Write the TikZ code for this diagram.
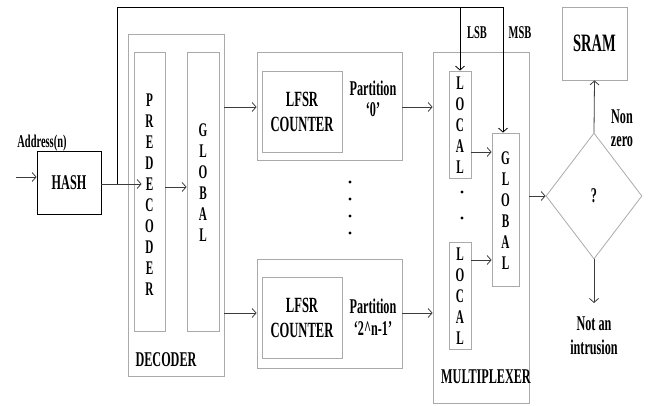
\documentclass[tikz,border=0pt]{standalone}
\usepackage{fontspec}
\setmainfont[FakeStretch=0.58]{Liberation Serif}
\usetikzlibrary{arrows.meta,shapes.geometric}
\definecolor{boxgray}{RGB}{170,170,170}
\definecolor{linedark}{RGB}{60,60,60}
\begin{document}
\begin{tikzpicture}[x=1pt,y=-1pt,
  >={Straight Barb[length=4pt,width=9pt]},
  gbox/.style={draw=boxgray, line width=0.8pt, rectangle, inner sep=0pt},
  bbox/.style={draw=black, line width=0.8pt, rectangle, inner sep=0pt},
  arr/.style={->, draw=linedark, line width=0.8pt},
  route/.style={->, draw=black, line width=0.8pt},
  lbl/.style={font=\fontsize{21}{24}\selectfont\bfseries, inner sep=0pt},
  small/.style={font=\fontsize{18}{21}\selectfont\bfseries, inner sep=0pt},
  stack/.style={font=\fontsize{19.3}{21}\selectfont\bfseries, align=center, inner sep=0pt}]
\useasboundingbox (0,0) rectangle (649,406);
% boxes
\node[bbox, minimum width=64pt, minimum height=63pt, font=\fontsize{21}{24}\selectfont\bfseries] (hash) at (69,182.5) {HASH};
\node[gbox, minimum width=96pt, minimum height=342pt] (dec) at (176,205) {};
\node[gbox, minimum width=31pt, minimum height=279pt] (pre) at (149.5,191.5) {};
\node[gbox, minimum width=32pt, minimum height=279pt] (glob1) at (203,191.5) {};
\node[gbox, minimum width=145pt, minimum height=108pt] (lfsr1) at (329.5,106) {};
\node[gbox, minimum width=80pt, minimum height=81pt, align=center, font=\fontsize{21.7}{25}\selectfont\bfseries] (cnt1) at (302,111.5) {LFSR\\COUNTER};
\node[gbox, minimum width=145pt, minimum height=109pt] (lfsr2) at (329.5,313.5) {};
\node[gbox, minimum width=80pt, minimum height=81pt, align=center, font=\fontsize{21.7}{25}\selectfont\bfseries] (cnt2) at (302,317.5) {LFSR\\COUNTER};
\node[gbox, minimum width=96pt, minimum height=351pt] (mux) at (481,227.5) {};
\node[gbox, minimum width=22pt, minimum height=107pt] (loc1) at (460,124.5) {};
\node[gbox, minimum width=22pt, minimum height=107pt] (loc2) at (460,295.5) {};
\node[gbox, minimum width=27pt, minimum height=153pt] (glob2) at (505.5,209.5) {};
\node[draw=boxgray, line width=0.8pt, diamond, inner sep=0pt, minimum width=96pt, minimum height=126pt, font=\fontsize{21}{24}\selectfont\bfseries] (dia) at (594,196) {?};
\node[gbox, minimum width=65pt, minimum height=73pt, font=\fontsize{25}{28}\selectfont\bfseries] (sram) at (594.5,43.5) {SRAM};
% stacked letters
\node[stack] (pret) at (149.5,195) {P\\R\\E\\D\\E\\C\\O\\D\\E\\R};
\node[stack] (g1t) at (203,182.5) {G\\L\\O\\B\\A\\L};
\node[stack] (l1t) at (460,125) {L\\O\\C\\A\\L};
\node[stack] (l2t) at (460,296.5) {L\\O\\C\\A\\L};
\node[stack] (g2t) at (505.5,210.5) {G\\L\\O\\B\\A\\L};
% labels
\node[small] (addr) at (42,143) {Address(n)};
\node[small] (lsbt) at (477,33) {LSB};
\node[small] (msbt) at (520,33) {MSB};
\node[lbl] (dect) at (166,360) {DECODER};
\node[lbl, align=center, font=\fontsize{21}{20.5}\selectfont\bfseries] (p1) at (373,99) {Partition\\‘0’};
\node[lbl, align=center, font=\fontsize{21}{22}\selectfont\bfseries] (p2) at (373,317) {Partition\\‘2\textasciicircum n-1’};
\node[lbl] (muxt) at (486,377) {MULTIPLEXER};
\node[lbl] (non) at (622,117) {Non};
\node[lbl] (zero) at (622,142) {zero};
\node[lbl] (nota) at (594,324) {Not an};
\node[lbl] (intr) at (594,347) {intrusion};
% dots
\foreach \yy in {182,199,216,233} \fill[black] (350,\yy) circle (1.6pt);
\foreach \yy in {192,218} \fill[black] (462,\yy) circle (1.6pt);
% coordinates
\coordinate (in) at (16,177);
\coordinate (j) at (117,184);
\coordinate (tr) at (503,7);
\coordinate (lsb) at (460,7);
\coordinate (out) at (594,303);
% connectors
\draw[arr] (in) -- (in -| hash.west);
\draw[arr] (hash.east |- j) -- ([xshift=8pt]pre.west |- j);
\draw[route] (j) |- (tr) -- (tr |- glob2.north);
\draw[route] (lsb) -- (lsb |- loc1.north);
\draw[arr] (pre.east |- 0,187) -- (glob1.west |- 0,187);
\draw[arr] (dec.east |- 0,107) -- (lfsr1.west |- 0,107);
\draw[arr] (dec.east |- 0,313) -- (lfsr2.west |- 0,313);
\draw[arr] (lfsr1.east |- 0,107) -- (mux.west |- 0,107);
\draw[arr] (lfsr2.east |- 0,313) -- (mux.west |- 0,313);
\draw[arr] (loc1.east |- 0,152) -- (glob2.west |- 0,152);
\draw[arr] (loc2.east |- 0,260) -- (glob2.west |- 0,260);
\draw[arr] (mux.east |- dia.west) -- (dia.west);
\draw[arr] (dia.north) -- (sram.south);
\draw[arr] (dia.south) -- (out);
\end{tikzpicture}
\end{document}
